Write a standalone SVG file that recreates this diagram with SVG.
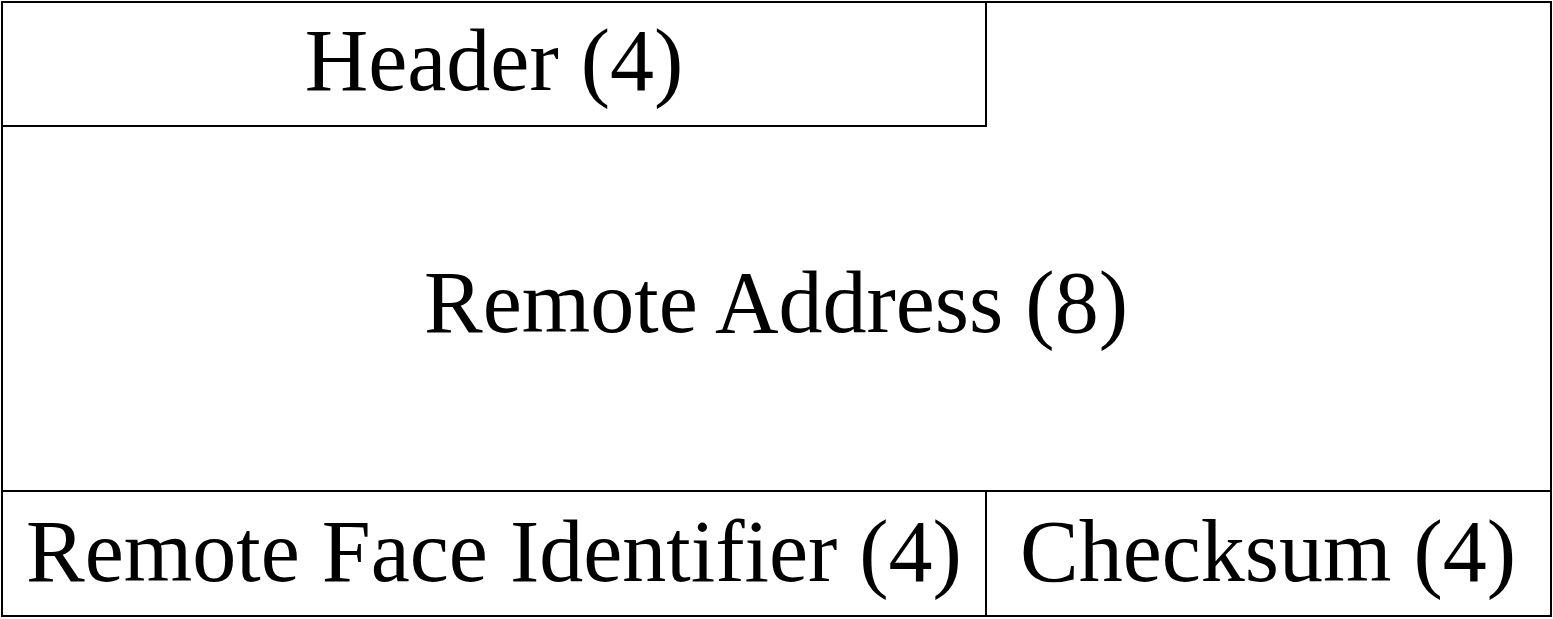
<svg xmlns="http://www.w3.org/2000/svg" width="1553" height="619" viewBox="0 0 1553 619">
<style>
.b{fill:none;stroke:#000;stroke-width:2}
.t{font-family:"Liberation Serif",serif;font-size:88px;fill:#000;text-anchor:middle}
</style>
<rect width="1553" height="619" fill="#fff"/>
<g id="frame"><rect class="b" x="2" y="2" width="1549" height="614"/></g>
<g id="header"><rect class="b" x="2" y="2" width="984" height="124"/><text class="t" x="494" y="90">Header (4)</text></g>
<g id="address"><text class="t" x="776" y="332">Remote Address (8)</text></g>
<g id="face"><rect class="b" x="2" y="491" width="984" height="125"/><text class="t" x="494" y="581">Remote Face Identifier (4)</text></g>
<g id="checksum"><rect class="b" x="986" y="491" width="565" height="125"/><text class="t" x="1268" y="581">Checksum (4)</text></g>
</svg>
